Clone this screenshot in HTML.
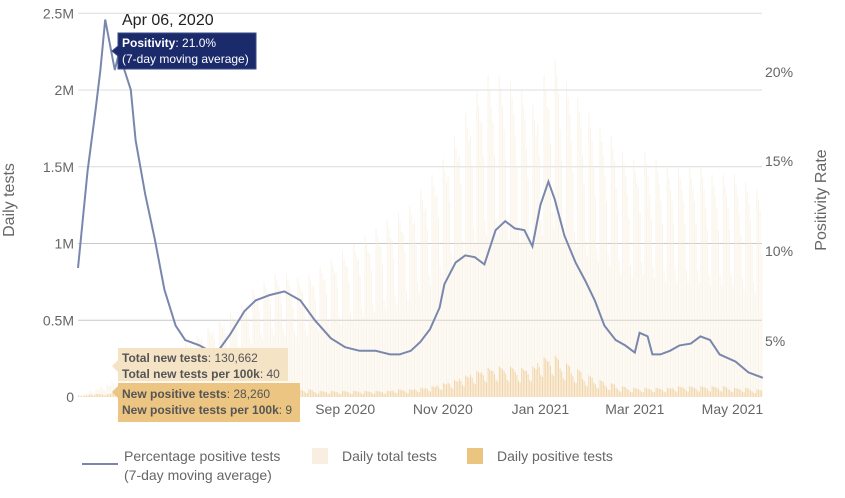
<!DOCTYPE html>
<html><head><meta charset="utf-8"><style>
body{margin:0;background:#fff;font-family:"Liberation Sans",sans-serif;}
svg text{font-family:"Liberation Sans",sans-serif;}
</style></head><body>
<svg id="chart" width="845" height="493" viewBox="0 0 845 493">
<g id="grid"></g>
<g id="bars"></g>
<g id="pbars"></g>
<g id="yl"></g>
<g id="yr"></g>
<g id="xa"></g>
<path id="pline" fill="none" stroke="#7a87ad" stroke-width="2"/>
<text x="14" y="200" transform="rotate(-90 14 200)" text-anchor="middle" font-size="16" fill="#666">Daily tests</text>
<text x="826" y="200" transform="rotate(-90 826 200)" text-anchor="middle" font-size="16" fill="#666">Positivity Rate</text>
<g>
<text x="122" y="25" font-size="16" fill="#222">Apr 06, 2020</text>
<path d="M118 33 H256 V69 H118 V56 L112 51 L118 46 Z" fill="#1b2a6b" stroke="#3a4a8a"/>
<text x="122" y="47" font-size="12" fill="#fff"><tspan font-weight="bold">Positivity</tspan>: 21.0%</text>
<text x="122" y="63" font-size="12" fill="#fff">(7-day moving average)</text>
</g>
<g>
<path d="M118 348 H288 V381 H118 V372 L112 366 L118 360 Z" fill="#f5e3c6"/>
<text x="122" y="362" font-size="12" fill="#555"><tspan font-weight="bold">Total new tests</tspan>: 130,662</text>
<text x="122" y="378" font-size="12" fill="#555"><tspan font-weight="bold">Total new tests per 100k</tspan>: 40</text>
</g>
<g>
<path d="M118 383 H300 V422 H118 V398 L112 392 L118 386 Z" fill="#ecc582"/>
<text x="122" y="398" font-size="12" fill="#555"><tspan font-weight="bold">New positive tests</tspan>: 28,260</text>
<text x="122" y="414" font-size="12" fill="#555"><tspan font-weight="bold">New positive tests per 100k</tspan>: 9</text>
</g>
<g>
<g>
<line x1="82" y1="464" x2="118" y2="464" stroke="#7a87ad" stroke-width="2"/>
<text x="124" y="461" font-size="14" fill="#666">Percentage positive tests</text>
<text x="124" y="480" font-size="14" fill="#666">(7-day moving average)</text></g>
<g>
<rect x="312" y="448" width="16" height="16" fill="#f8efe0"/>
<text x="342" y="461" font-size="14" fill="#666">Daily total tests</text></g>
<g>
<rect x="467" y="448" width="16" height="16" fill="#ebc47f"/>
<text x="497" y="461" font-size="14" fill="#666">Daily positive tests</text></g>
</g>
</svg>
<script>
// weekly peak daily totals (millions), week 0 starts Mar 18 2020
const totalWeekly=[0.02,0.05,0.08,0.12,0.15,0.18,0.2,0.25,0.3,0.35,0.4,0.45,0.5,0.55,0.6,0.7,0.75,0.8,0.8,0.78,0.8,0.85,0.9,0.95,1.0,1.05,1.1,1.15,1.2,1.25,1.35,1.45,1.55,1.7,1.85,2.0,2.1,2.1,2.05,2.0,1.9,2.1,2.2,2.05,1.95,1.85,1.75,1.7,1.6,1.55,1.6,1.55,1.5,1.5,1.5,1.5,1.45,1.45,1.45,1.4,1.35,1.1];
const positiveWeekly=[0.01,0.02,0.02,0.03,0.03,0.03,0.03,0.03,0.03,0.03,0.03,0.03,0.03,0.04,0.05,0.05,0.05,0.05,0.05,0.05,0.05,0.04,0.04,0.04,0.04,0.04,0.04,0.04,0.05,0.05,0.06,0.07,0.09,0.11,0.14,0.17,0.19,0.2,0.2,0.19,0.2,0.26,0.27,0.22,0.18,0.14,0.11,0.09,0.07,0.06,0.06,0.06,0.06,0.07,0.07,0.07,0.07,0.07,0.06,0.06,0.05,0.05];
const weekdayFactor=[1,0.95,0.9,0.85,0.75,0.55,0.5];
const posDays=[0,6,11,14,17,20,23,26,29,33,36,42,48,54,61,67,76,86,95,104,111,120,129,139,148,158,167,176,186,195,201,208,214,220,226,229,236,242,248,254,261,267,273,279,284,289,294,298,304,311,317,323,329,336,342,348,351,356,359,364,370,376,383,389,395,401,411,419,428];
const posPct=[9.0,14.4,17.8,20.0,22.8,21.4,20.0,21.1,20.0,18.9,16.1,13.1,10.6,7.8,5.8,5.0,4.7,4.2,5.3,6.6,7.2,7.5,7.7,7.2,6.1,5.1,4.6,4.4,4.4,4.2,4.2,4.4,4.9,5.6,6.8,8.1,9.3,9.7,9.6,9.2,11.1,11.6,11.2,11.1,10.2,12.5,13.8,12.8,10.8,9.3,8.3,7.2,5.8,5.0,4.7,4.3,5.4,5.2,4.2,4.2,4.4,4.7,4.8,5.2,5.0,4.2,3.8,3.2,2.9];
const leftTicks=["0","0.5M","1M","1.5M","2M","2.5M"];
const rightTicks=["5%","10%","15%","20%"];
const xLabels=["Sep 2020","Nov 2020","Jan 2021","Mar 2021","May 2021"];
const xLabelDays=[167,228,289,348,409];

const NS="http://www.w3.org/2000/svg";
const X=d=>78+1.6*d;
const YL=m=>397-153.5*m;
const YR=p=>430-18*p;
function mk(tag,attrs,parent){const e=document.createElementNS(NS,tag);for(const k in attrs)e.setAttribute(k,attrs[k]);parent.appendChild(e);return e;}
const grid=document.getElementById('grid');
leftTicks.forEach((t,i)=>{const y=YL(i*0.5);
 if(i>0){const l=mk('line',{x1:78,x2:762,y1:y,y2:y,stroke:(i==1||i==2)?'#c8c8c8':'#dcdcdc','stroke-width':1},grid);
 
 }
 const tx=mk('text',{x:74,y:y+5,'text-anchor':'end','font-size':14,fill:'#666'},document.getElementById('yl'));tx.textContent=t;
 
 
});
const rY=[340,250,160,71];
rightTicks.forEach((t,i)=>{const tx=mk('text',{x:765,y:rY[i]+6,'font-size':14,fill:'#666'},document.getElementById('yr'));tx.textContent=t;
 
 });
xLabels.forEach((t,i)=>{const tx=mk('text',{x:X(xLabelDays[i]),y:414,'text-anchor':'middle','font-size':14,fill:'#666'},document.getElementById('xa'));tx.textContent=t;
 
 });
const bars=document.getElementById('bars'),pbars=document.getElementById('pbars');
for(let d=0;d<=427;d++){const w=Math.min(Math.floor(d/7),totalWeekly.length-1);const f=weekdayFactor[(d+3)%7];
 const v=totalWeekly[w]*f;const b=mk('rect',{x:X(d),y:YL(v),width:1,height:397-YL(v),fill:'#f5ead8','fill-opacity':0.55},bars);
 
 
 const pv=positiveWeekly[w]*f;const p=mk('rect',{x:X(d),y:YL(pv),width:1,height:397-YL(pv),fill:'#ebc07a','fill-opacity':0.6},pbars);
 
 }
document.getElementById('pline').setAttribute('d',posDays.map((d,i)=>(i?'L':'M')+X(d).toFixed(1)+' '+YR(posPct[i]).toFixed(1)).join(' '));
</script>
</body></html>
